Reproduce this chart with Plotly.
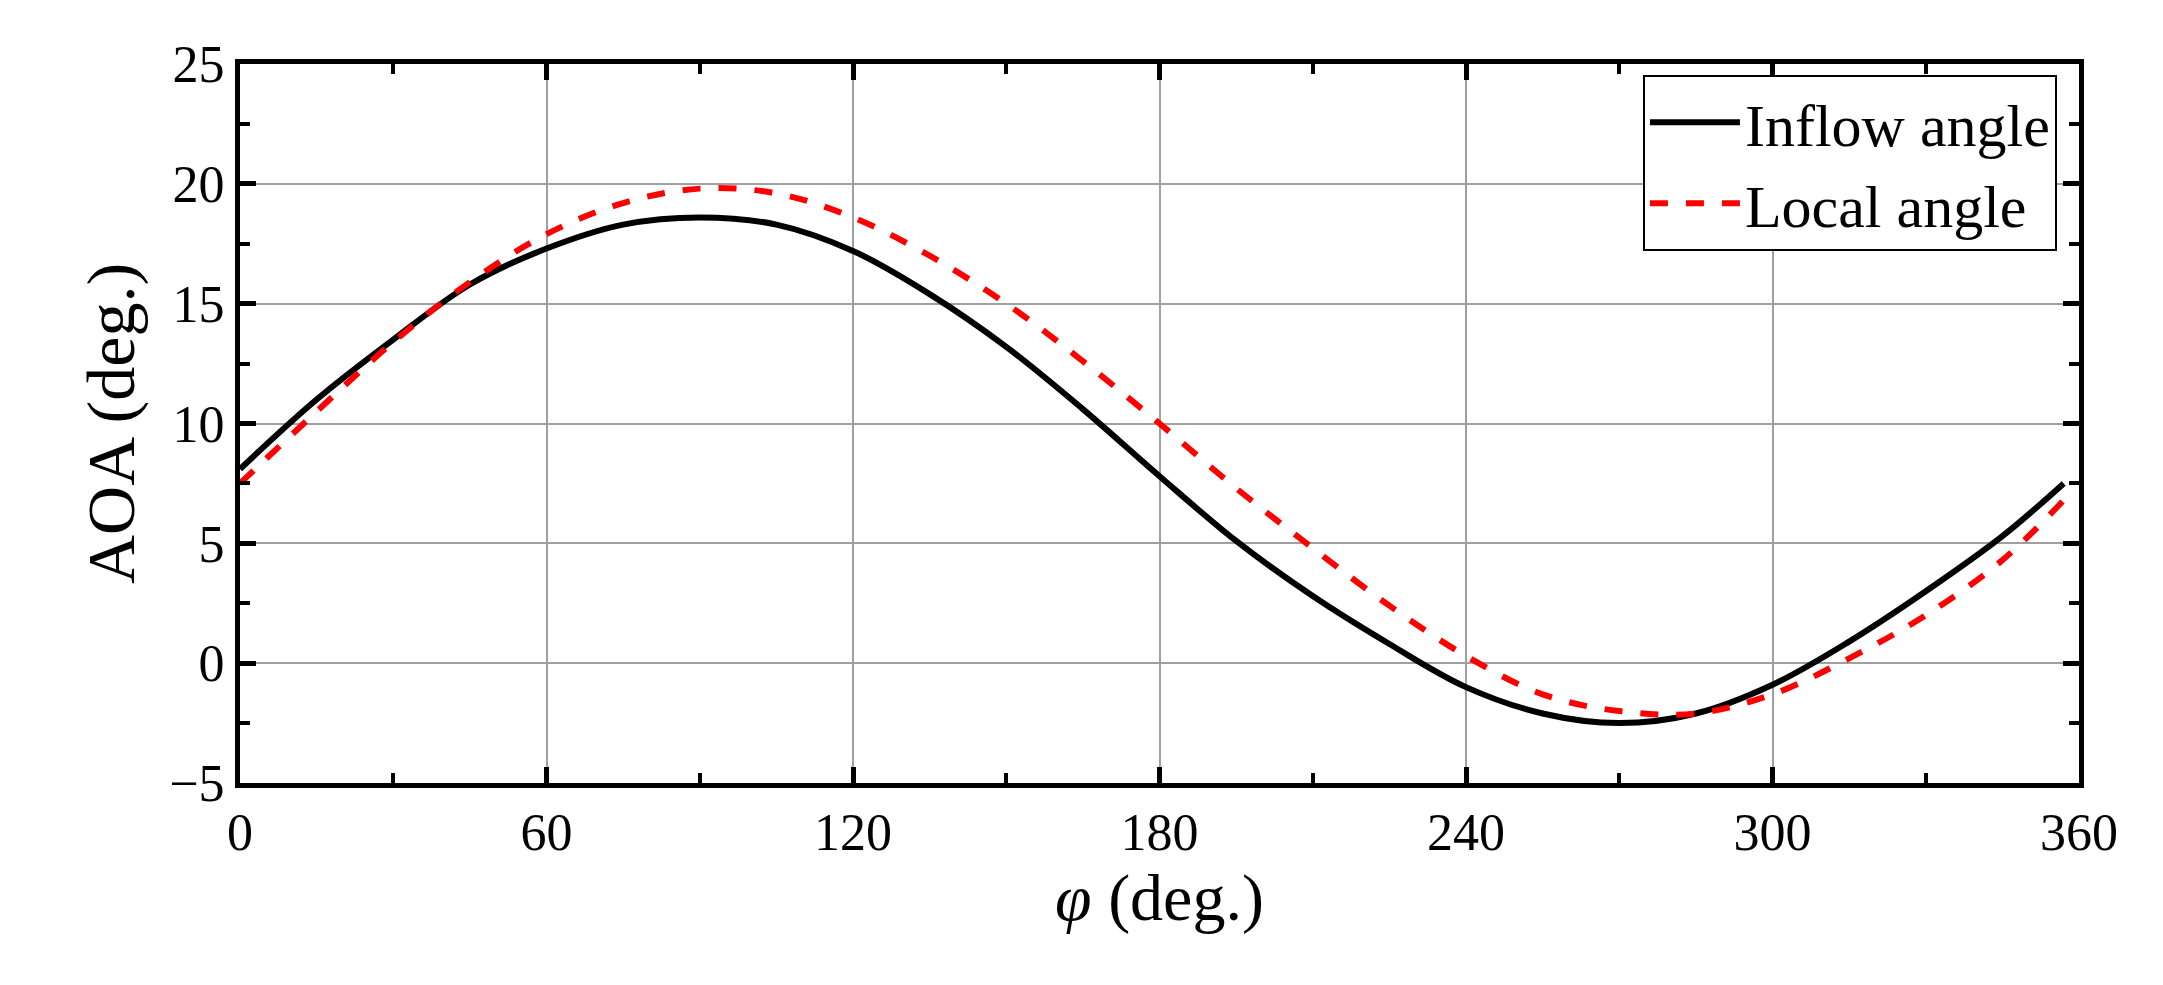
import plotly.graph_objects as go

phi = [0, 15, 30, 45, 60, 75, 90, 105, 120, 135, 150, 165, 180, 195, 210, 225,
       240, 255, 270, 285, 300, 315, 330, 345, 357]
inflow = [8.1, 11.0, 13.5, 15.8, 17.3, 18.3, 18.6, 18.3, 17.2, 15.4, 13.2, 10.6, 7.8,
          5.1, 2.8, 0.8, -1.0, -2.1, -2.5, -2.1, -0.9, 0.9, 3.0, 5.3, 7.5]
local = [7.5, 10.5, 13.4, 15.9, 17.9, 19.2, 19.8, 19.6, 18.6, 17.0, 15.0, 12.6, 10.0,
         7.3, 4.8, 2.4, 0.3, -1.3, -2.0, -2.1, -1.3, 0.2, 2.0, 4.3, 6.8]

fnt = "Liberation Serif, Times New Roman, serif"

fig = go.Figure()
fig.add_trace(go.Scatter(x=phi, y=inflow, mode="lines", name="Inflow angle",
                         line=dict(color="black", width=6, shape="spline")))
fig.add_trace(go.Scatter(x=phi, y=local, mode="lines", name="Local angle",
                         line=dict(color="red", width=6, dash="dash", shape="spline")))

axis = dict(showline=True, linecolor="black", linewidth=5, mirror="ticks",
            ticks="inside", ticklen=16, tickwidth=5, tickcolor="black",
            showgrid=True, gridcolor="#a0a0a0", gridwidth=2, zeroline=False,
            tickfont=dict(family=fnt, size=52, color="black"))

fig.update_xaxes(axis, range=[0, 360], dtick=60, tick0=0,
                 minor=dict(dtick=30, ticks="inside", ticklen=10, tickwidth=4,
                            tickcolor="black", showgrid=False),
                 title=dict(text="<i>φ</i> (deg.)", font=dict(family=fnt, size=66, color="black"),
                            standoff=8))
fig.update_yaxes(axis, range=[-5, 25], dtick=5, tick0=-5,
                 minor=dict(dtick=2.5, ticks="inside", ticklen=10, tickwidth=4,
                            tickcolor="black", showgrid=False),
                 title=dict(text="AOA (deg.)", font=dict(family=fnt, size=68, color="black"),
                            standoff=14))

fig.update_layout(
    width=2163, height=985, plot_bgcolor="white", paper_bgcolor="white",
    margin=dict(l=232, r=92, t=56, b=210),
    legend=dict(x=0.988, y=0.985, xanchor="right", yanchor="top", itemwidth=90,
                bgcolor="white", bordercolor="black", borderwidth=2,
                font=dict(family=fnt, size=60, color="black")),
)

fig.write_html("out.html")
